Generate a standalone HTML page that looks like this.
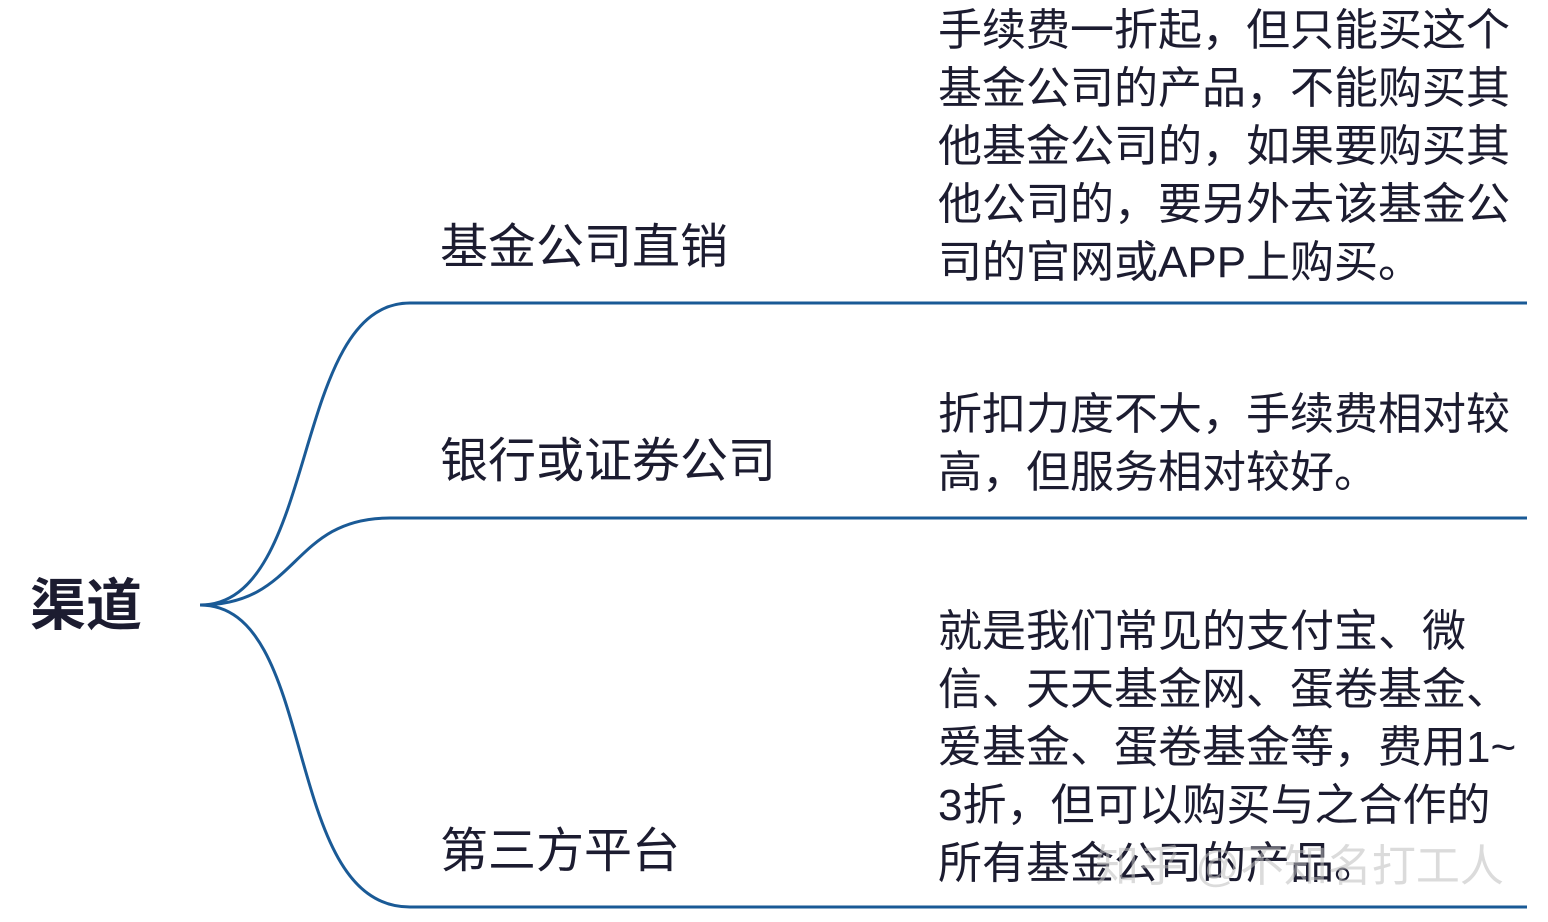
<!DOCTYPE html>
<html><head><meta charset="utf-8"><style>
html,body{margin:0;padding:0;background:#fff;width:1548px;height:922px;overflow:hidden}
body{position:relative;font-family:"Liberation Sans","Noto Sans CJK SC",sans-serif;color:#1c1c30}
.t{position:absolute;white-space:nowrap}
.lbl{font-size:48px;line-height:58px;left:440px}
.rt{position:absolute;left:938px;font-size:44px;line-height:58px;white-space:nowrap}
</style></head><body>
<svg width="1548" height="922" style="position:absolute;left:0;top:0">
<g fill="none" stroke="#1a5a96" stroke-width="3">
<path d="M200,605 C320,605 290,303 410,303 L1527,303"/>
<path d="M200,605 C300,605 290,518 390,518 L1527,518"/>
<path d="M200,605 C320,605 280,907 410,907 L1527,907"/>
</g>
</svg>
<div class="t" style="left:30px;top:573px;font-size:56px;font-weight:bold;line-height:66px">渠道</div>
<div class="t lbl" style="top:219px">基金公司直销</div>
<div class="t lbl" style="top:433px">银行或证券公司</div>
<div class="t lbl" style="top:823px">第三方平台</div>
<div class="rt" style="top:2px">手续费一折起，但只能买这个<br>基金公司的产品，不能购买其<br>他基金公司的，如果要购买其<br>他公司的，要另外去该基金公<br>司的官网或APP上购买。</div>
<div class="rt" style="top:386px">折扣力度不大，手续费相对较<br>高，但服务相对较好。</div>
<div class="rt" style="top:603px">就是我们常见的支付宝、微<br>信、天天基金网、蛋卷基金、<br>爱基金、蛋卷基金等，费用1~<br>3折，但可以购买与之合作的<br>所有基金公司的产品。</div>
<div class="t" style="left:1095px;top:830px;font-size:44px;color:rgba(190,190,190,0.55)">知乎 @不知名打工人</div>
</body></html>
